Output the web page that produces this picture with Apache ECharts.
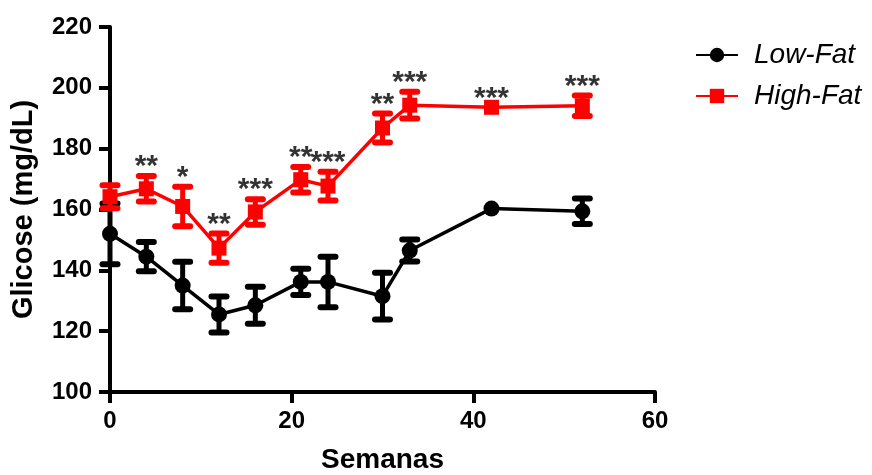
<!DOCTYPE html>
<html>
<head>
<meta charset="utf-8">
<script src="https://cdn.jsdelivr.net/npm/echarts@6/dist/echarts.min.js"></script>
<style>html,body{margin:0;padding:0;background:#fff}#c{width:872px;height:475px}</style>
</head>
<body>
<div id="c"></div>
<script>
const weeks = [0, 4, 8, 12, 16, 21, 24, 30, 33, 42, 52];
const lowFatMean = [152, 144.5, 135, 125.5, 128.5, 136.2, 136.2, 131.5, 146.5, 160.3, 159.4];
const lowFatErr  = [10, 4.8, 7.8, 5.9, 6.1, 4.3, 8.3, 7.7, 3.6, 0, 4.2];
const highFatMean = [164.2, 166.8, 161, 147.3, 159.2, 169.8, 167.7, 186.8, 194.3, 193.6, 194.1];
const highFatErr  = [3.8, 4.2, 6.5, 4.8, 4.2, 4.2, 4.7, 4.8, 4.4, 0, 3.4];
const stars = ['', '**', '*', '**', '***', '**', '***', '**', '***', '***', '***'];
const yTicks = [100, 120, 140, 160, 180, 200, 220];
const xTicks = [0, 20, 40, 60];

const FONT = 'Liberation Sans, Arial, sans-serif';

function errData(mean, err) {
  return weeks.map((w, i) => [w, mean[i], err[i]]);
}
function errRender(color) {
  return function (params, api) {
    const x = api.value(0), m = api.value(1), e = api.value(2);
    if (!e) return null;
    const top = api.coord([x, m + e]);
    const bot = api.coord([x, m - e]);
    const hw = 7.5;
    const style = { stroke: color, lineWidth: 6, lineCap: 'round' };
    return {
      type: 'group',
      children: [
        { type: 'line', shape: { x1: top[0], y1: top[1], x2: bot[0], y2: bot[1] }, style: { stroke: color, lineWidth: 5 } },
        { type: 'line', shape: { x1: top[0] - hw, y1: top[1], x2: top[0] + hw, y2: top[1] }, style: style },
        { type: 'line', shape: { x1: bot[0] - hw, y1: bot[1], x2: bot[0] + hw, y2: bot[1] }, style: style }
      ]
    };
  };
}

const chart = echarts.init(document.getElementById('c'));
chart.setOption({
  animation: false,
  grid: { left: 110, right: 217, top: 27, bottom: 83, containLabel: false, outerBoundsMode: 'none' },
  legend: {
    data: [
      { name: 'Low-Fat' },
      { name: 'High-Fat' }
    ],
    orient: 'vertical',
    left: 690,
    top: 36,
    itemWidth: 42,
    itemHeight: 18,
    itemGap: 13,
    textStyle: { fontFamily: FONT, fontSize: 28, fontStyle: 'italic', color: '#000', padding: [0, 0, 0, 11] }
  },
  xAxis: {
    type: 'value', min: 0, max: 60, interval: 20,
    name: 'Semanas', nameLocation: 'middle', nameGap: 54,
    nameTextStyle: { fontFamily: FONT, fontSize: 28, fontWeight: 'bold', color: '#000' },
    axisLine: { lineStyle: { color: '#000', width: 4 } },
    axisTick: { show: true, length: 11, lineStyle: { color: '#000', width: 4 } },
    axisLabel: { fontFamily: FONT, fontSize: 24, fontWeight: 'bold', color: '#000', margin: 17,
      customValues: xTicks },
    splitLine: { show: false }
  },
  yAxis: {
    type: 'value', min: 100, max: 220, interval: 20,
    name: 'Glicose (mg/dL)', nameLocation: 'middle', nameGap: 72,
    nameTextStyle: { fontFamily: FONT, fontSize: 29, fontWeight: 'bold', color: '#000' },
    axisLine: { show: true, lineStyle: { color: '#000', width: 4 } },
    axisTick: { show: true, length: 11, lineStyle: { color: '#000', width: 4 } },
    axisLabel: { fontFamily: FONT, fontSize: 24, fontWeight: 'bold', color: '#000', margin: 18,
      customValues: yTicks },
    splitLine: { show: false }
  },
  series: [
    {
      name: 'Low-Fat', type: 'line',
      data: weeks.map((w, i) => [w, lowFatMean[i]]),
      symbol: 'circle', symbolSize: 16,
      lineStyle: { color: '#000', width: 3.5 },
      itemStyle: { color: '#000' },
      z: 3
    },
    {
      name: 'lfErr', type: 'custom',
      data: errData(lowFatMean, lowFatErr),
      renderItem: errRender('#000'),
      encode: { x: 0, y: 1 },
      z: 3
    },
    {
      name: 'High-Fat', type: 'line',
      data: weeks.map((w, i) => [w, highFatMean[i]]),
      symbol: 'rect', symbolSize: 15,
      lineStyle: { color: '#ff0000', width: 3.5 },
      itemStyle: { color: '#ff0000' },
      z: 5
    },
    {
      name: 'hfErr', type: 'custom',
      data: errData(highFatMean, highFatErr),
      renderItem: errRender('#ff0000'),
      encode: { x: 0, y: 1 },
      z: 5
    },
    {
      name: 'stars', type: 'scatter',
      data: weeks.map((w, i) => [w, highFatMean[i] + highFatErr[i]]),
      symbolSize: 0,
      label: {
        show: true, position: 'top', distance: -6,
        formatter: p => stars[p.dataIndex],
        fontFamily: FONT, fontSize: 30, fontWeight: 'bold', color: '#000'
      },
      silent: true,
      z: 6
    }
  ]
});
</script>
</body>
</html>
